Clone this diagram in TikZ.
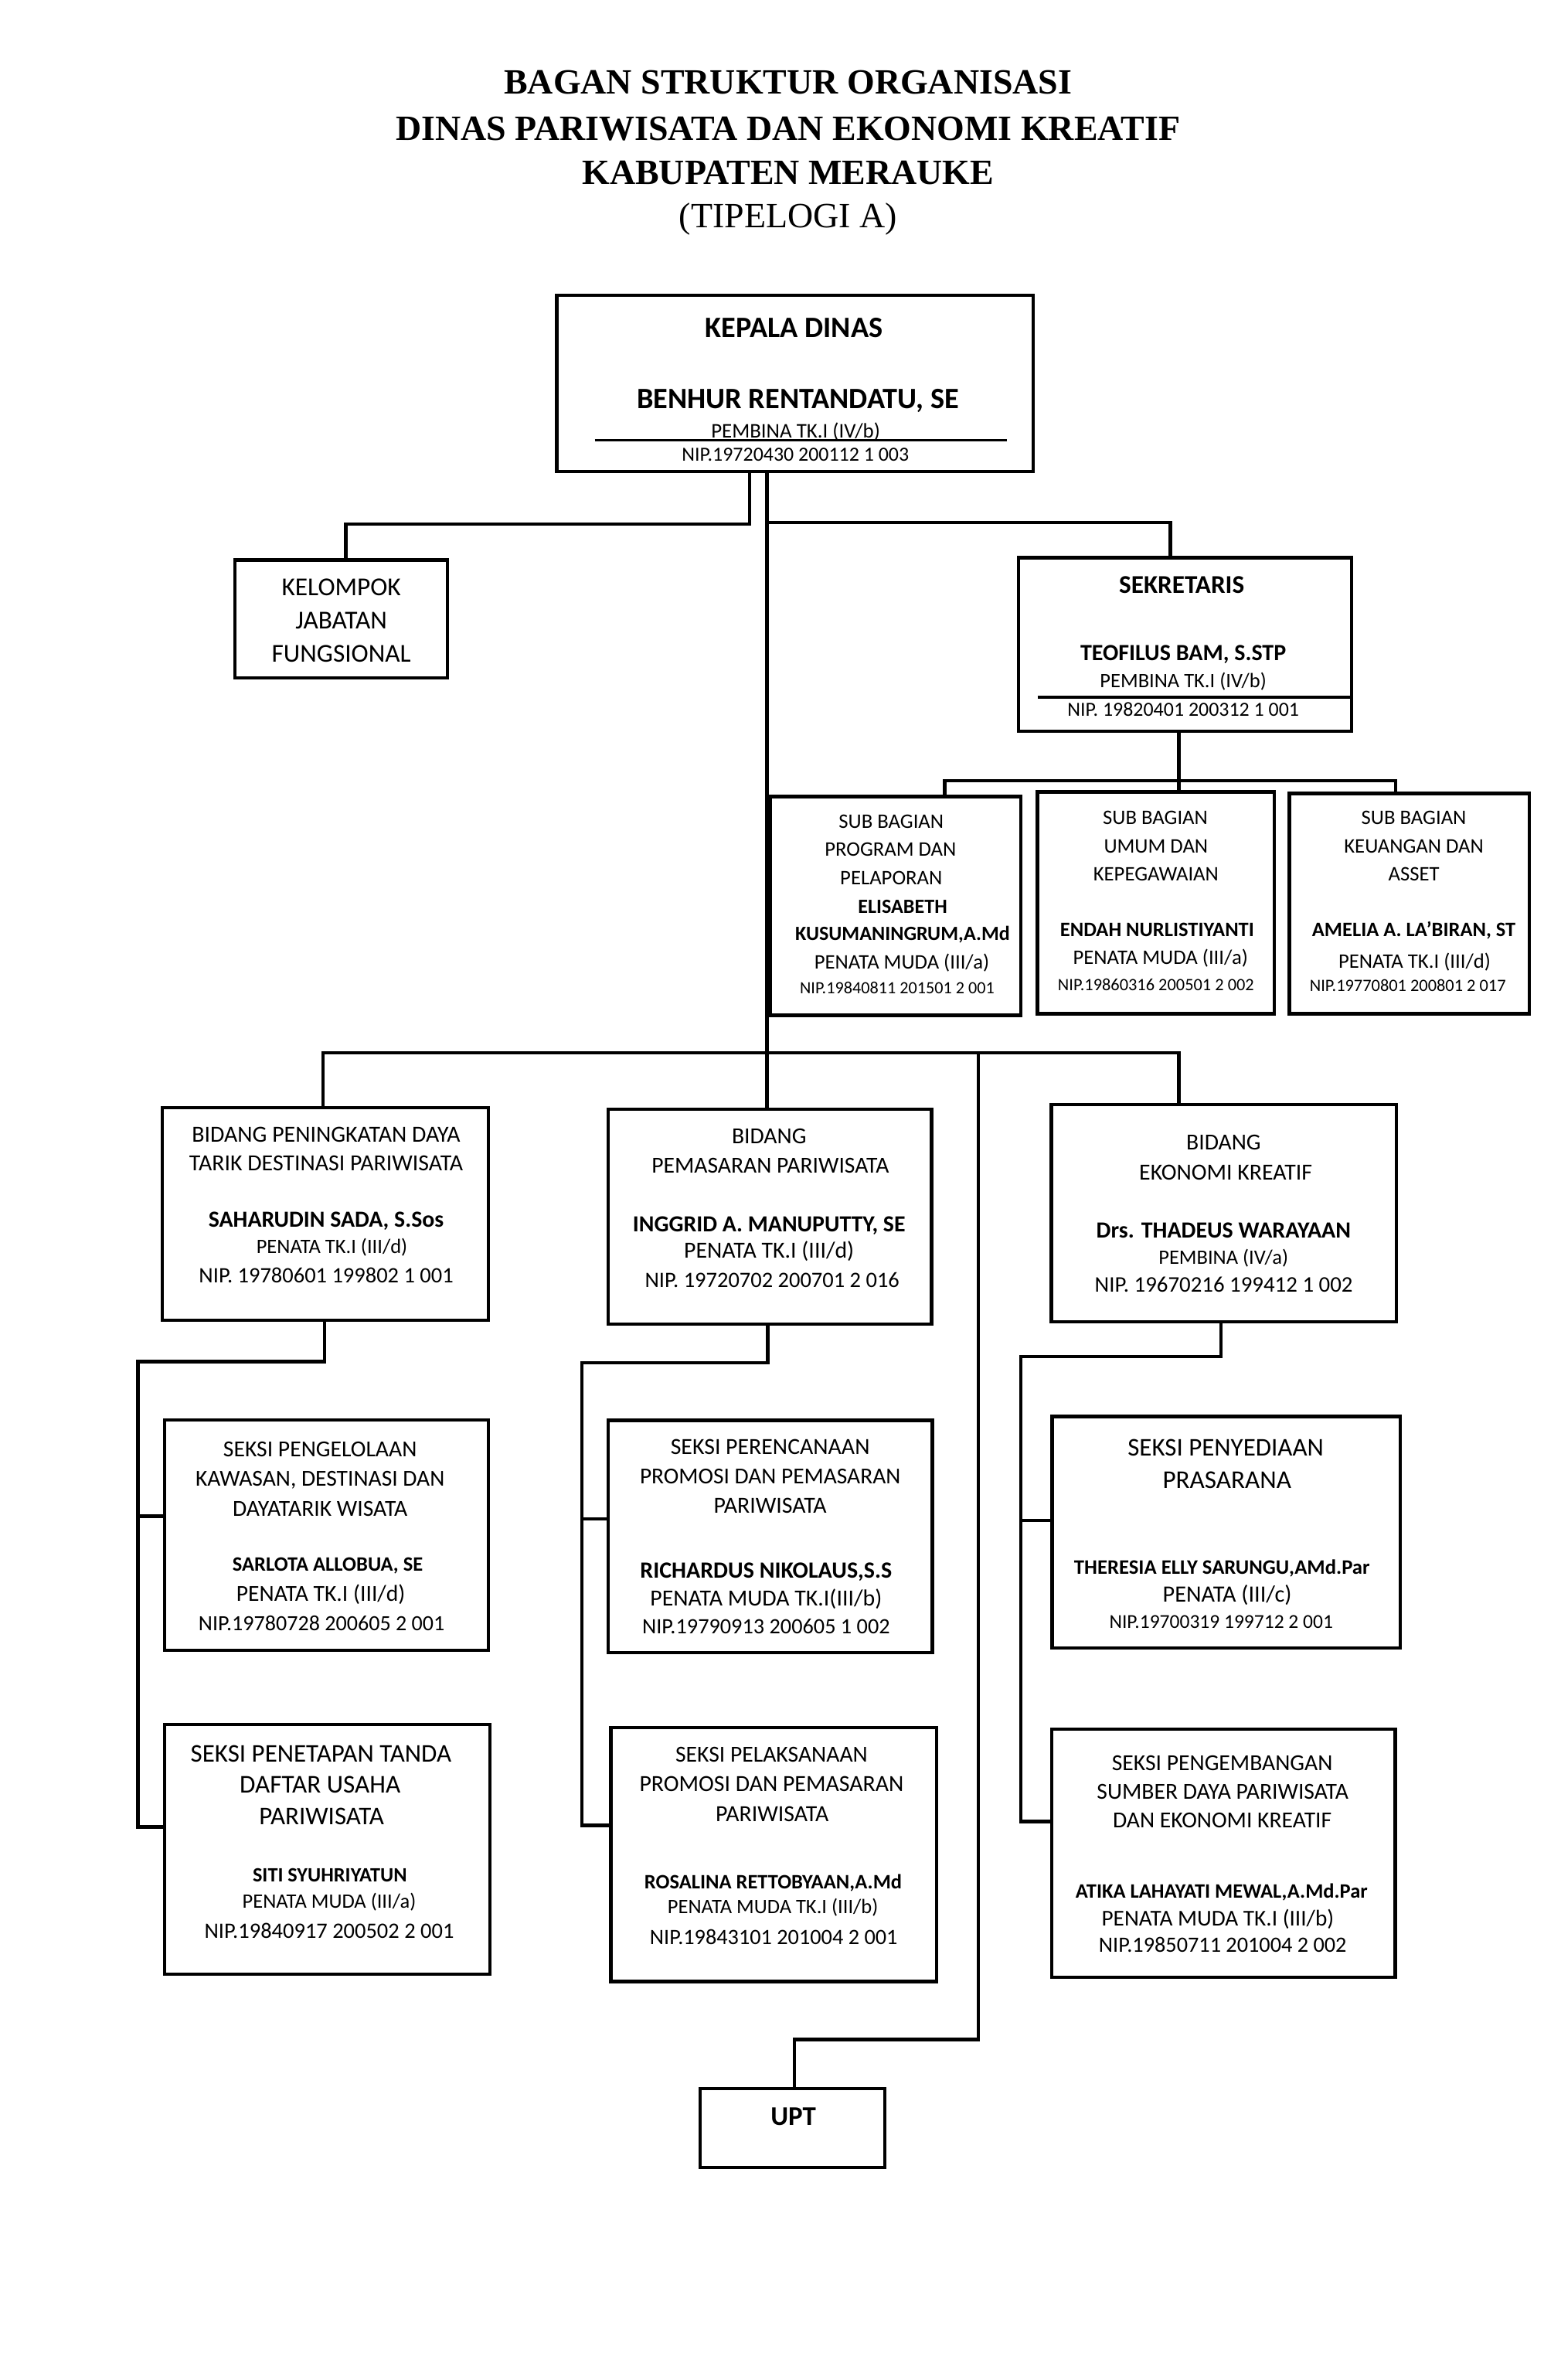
\documentclass[tikz,border=0pt]{standalone}
\usepackage{fontspec}
\setmainfont{Carlito}
\newfontfamily\tnr{Liberation Serif}
\newcounter{tlc}
\tikzset{
  box/.style={draw, line width=1.7pt, inner sep=0pt, outer sep=0pt, anchor=north west},
  ln/.style={line width=1.7pt, line cap=rect},
  rule/.style={line width=1.3pt}
}
% #1 x, #2 y (middle of capitals), #3 size (px), #4 font switches, #5 text
\newcommand\tx[5]{\stepcounter{tlc}%
  \node[anchor=base, inner sep=0pt, font={\fontsize{\fpeval{#3*0.75}pt}{\fpeval{#3*0.9}pt}\selectfont #4}]
    (t\arabic{tlc}) at ({#1},{#2+0.322*#3}) {#5};}
\newcommand\bx[5]{\node[box, minimum width={(#4-#2)*0.75pt}, minimum height={(#5-#3)*0.75pt}] (#1) at (#2,#3) {};}
\begin{document}
\begin{tikzpicture}[x=0.75pt,y=-0.75pt]
\fill[white] (0,0) rectangle (1029,1568.5);
\useasboundingbox (0,0) rectangle (1029,1568.5);

% ---------- title ----------
\tx{519.5}{54.6}{23.4}{\tnr\bfseries}{BAGAN STRUKTUR ORGANISASI}
\tx{519.5}{84.9}{23.4}{\tnr\bfseries}{DINAS PARIWISATA DAN EKONOMI KREATIF}
\tx{519.5}{113.8}{23.4}{\tnr\bfseries}{KABUPATEN MERAUKE}
\tx{519.5}{142.6}{23.4}{\tnr}{(TIPELOGI A)}

% ---------- boxes ----------
\bx{kd}{367}{194.6}{681}{310.7}
\bx{kel}{155}{369}{295}{446.7}
\bx{sek}{671.5}{367.6}{891}{482}
\bx{sba}{508}{525}{673}{669}
\bx{sbb}{684}{522}{840}{668}
\bx{sbc}{850}{523}{1008}{668}
\bx{ba}{107}{730}{322}{870}
\bx{bb}{401}{731}{614}{872.7}
\bx{bc}{693}{728}{920.5}{871}
\bx{saa}{108.6}{935.7}{322}{1087.6}
\bx{sab}{108.6}{1136.5}{323}{1301}
\bx{sba2}{401}{936}{614.5}{1089}
\bx{sbb2}{402.8}{1138.6}{617.4}{1305.8}
\bx{sca}{693.5}{933.6}{923}{1086}
\bx{scb}{693.4}{1139.6}{919.8}{1303}
\bx{upt}{461.5}{1376.3}{583.3}{1428.5}

% rules inside boxes
\draw[rule] (392,290) -- (664,290);
\draw[rule] (684,459.5) -- (891,459.5);

% ---------- connectors ----------
\coordinate (xa) at (494,345.5);
\coordinate (xk) at (228,345.5);
\coordinate (tr) at (505.5,344.5);
\coordinate (xc) at (771.5,344.5);
\draw[ln] (kd.south -| xa) -- (xa) -- (xk) -- (xk |- kel.north);
\draw[ln] (kd.south -| tr) -- (bb.north -| tr);
\draw[ln] (tr) -- (xc) -- (xc |- sek.north);

\coordinate (sj) at (777,514.5);
\coordinate (sl) at (622.7,514.5);
\coordinate (sr) at (920,514.5);
\draw[ln] (sek.south -| sj) -- (sj) -- (sj |- sbb.north);
\draw[ln] (sl |- sba.north) -- (sl) -- (sr) -- (sr |- sbc.north);

\coordinate (bl) at (213,693.7);
\coordinate (br) at (777,693.7);
\coordinate (bu) at (645,693.7);
\coordinate (uj) at (645,1344);
\coordinate (uk) at (523.8,1344);
\draw[ln] (bl |- ba.north) -- (bl) -- (br) -- (br |- bc.north);
\draw[ln] (bu) -- (uj) -- (uk) -- (uk |- upt.north);

\coordinate (cat) at (214,897.4);
\coordinate (cal) at (91,897.4);
\coordinate (cam) at (91,999.3);
\coordinate (cab) at (91,1204);
\draw[ln] (ba.south -| cat) -- (cat) -- (cal) -- (cab) -- (cab -| sab.west);
\draw[ln] (cam) -- (cam -| saa.west);

\coordinate (cbt) at (506,898);
\coordinate (cbl) at (383.5,898);
\coordinate (cbm) at (383.5,1001);
\coordinate (cbb) at (383.5,1203);
\draw[ln] (bb.south -| cbt) -- (cbt) -- (cbl) -- (cbb) -- (cbb -| sbb2.west);
\draw[ln] (cbm) -- (cbm -| sba2.west);

\coordinate (cct) at (805,894);
\coordinate (ccl) at (673,894);
\coordinate (ccm) at (673,1002);
\coordinate (ccb) at (673,1200.5);
\draw[ln] (bc.south -| cct) -- (cct) -- (ccl) -- (ccb) -- (ccb -| scb.west);
\draw[ln] (ccm) -- (ccm -| sca.west);

% ---------- texts ----------
% Kepala Dinas
\tx{523.5}{216}{19.5}{\bfseries}{KEPALA DINAS}
\tx{526}{263}{19.5}{\bfseries}{BENHUR RENTANDATU, SE}
\tx{524.5}{284}{13.7}{}{PEMBINA TK.I (IV/b)}
\tx{524.3}{299.6}{13.2}{}{NIP.19720430 200112 1 003}
% Kelompok
\tx{225}{387}{17}{}{KELOMPOK}
\tx{225}{409}{17}{}{JABATAN}
\tx{225}{431}{17}{}{FUNGSIONAL}
% Sekretaris
\tx{779}{385.5}{16.9}{\bfseries}{SEKRETARIS}
\tx{780}{430.5}{15.3}{\bfseries}{TEOFILUS BAM, S.STP}
\tx{780}{449}{13.5}{}{PEMBINA TK.I (IV/b)}
\tx{780}{467.8}{13.2}{}{NIP. 19820401 200312 1 001}
% Sub bagian 1
\tx{587.5}{541.6}{13.6}{}{SUB BAGIAN}
\tx{587}{559.9}{13.6}{}{PROGRAM DAN}
\tx{587.5}{578.7}{13.6}{}{PELAPORAN}
\tx{595}{597.4}{13.3}{\bfseries}{ELISABETH}
\tx{595}{615.5}{13.3}{\bfseries}{KUSUMANINGRUM,A.Md}
\tx{594.5}{634.3}{13.6}{}{PENATA MUDA (III/a)}
\tx{591.4}{651.2}{11.3}{}{NIP.19840811 201501 2 001}
% Sub bagian 2
\tx{761.6}{539}{13.6}{}{SUB BAGIAN}
\tx{762}{557.8}{13.6}{}{UMUM DAN}
\tx{762}{576}{13.6}{}{KEPEGAWAIAN}
\tx{762.8}{613}{13.5}{\bfseries}{ENDAH NURLISTIYANTI}
\tx{765}{631.3}{13.6}{}{PENATA MUDA (III/a)}
\tx{762}{649}{11.4}{}{NIP.19860316 200501 2 002}
% Sub bagian 3
\tx{932}{539}{13.6}{}{SUB BAGIAN}
\tx{932}{558}{13.6}{}{KEUANGAN DAN}
\tx{932}{576}{13.6}{}{ASSET}
\tx{932}{613}{13.5}{\bfseries}{AMELIA A. LA’BIRAN, ST}
\tx{932.5}{633.6}{13.6}{}{PENATA TK.I (III/d)}
\tx{928}{649.5}{11.4}{}{NIP.19770801 200801 2 017}
% Bidang 1
\tx{215}{748}{15.2}{}{BIDANG PENINGKATAN DAYA}
\tx{215}{766.7}{15.2}{}{TARIK DESTINASI PARIWISATA}
\tx{215}{804}{15.2}{\bfseries}{SAHARUDIN SADA, S.Sos}
\tx{218.8}{821.8}{13.5}{}{PENATA TK.I (III/d)}
\tx{215}{840.6}{14.5}{}{NIP. 19780601 199802 1 001}
% Bidang 2
\tx{507}{749}{15.1}{}{BIDANG}
\tx{507.8}{768}{15.1}{}{PEMASARAN PARIWISATA}
\tx{507}{806.6}{15.2}{\bfseries}{INGGRID A. MANUPUTTY, SE}
\tx{507}{824.4}{15.2}{}{PENATA TK.I (III/d)}
\tx{509}{844}{14.5}{}{NIP. 19720702 200701 2 016}
% Bidang 3
\tx{806.6}{753}{15.1}{}{BIDANG}
\tx{808}{772.6}{15.2}{}{EKONOMI KREATIF}
\tx{806.6}{811}{15.25}{\bfseries}{Drs. THADEUS WARAYAAN}
\tx{806.5}{828.7}{13.5}{}{PEMBINA (IV/a)}
\tx{806.7}{847}{14.7}{}{NIP. 19670216 199412 1 002}
% Seksi 1a
\tx{211}{955}{15.1}{}{SEKSI PENGELOLAAN}
\tx{211}{974.6}{15.05}{}{KAWASAN, DESTINASI DAN}
\tx{211}{994.2}{15.1}{}{DAYATARIK WISATA}
\tx{216}{1030.8}{13.5}{\bfseries}{SARLOTA ALLOBUA, SE}
\tx{211.5}{1050.3}{15.1}{}{PENATA TK.I (III/d)}
\tx{212}{1069.8}{14.3}{}{NIP.19780728 200605 2 001}
% Seksi 1b
\tx{211.6}{1155.6}{16.8}{}{SEKSI PENETAPAN TANDA}
\tx{211}{1176.3}{16.9}{}{DAFTAR USAHA}
\tx{212}{1197}{16.8}{}{PARIWISATA}
\tx{217.4}{1236}{13.4}{\bfseries}{SITI SYUHRIYATUN}
\tx{217}{1253}{13.5}{}{PENATA MUDA (III/a)}
\tx{217}{1272.7}{14.5}{}{NIP.19840917 200502 2 001}
% Seksi 2a
\tx{507.7}{953.5}{15.2}{}{SEKSI PERENCANAAN}
\tx{507.7}{973}{15}{}{PROMOSI DAN PEMASARAN}
\tx{507.7}{992.5}{15.2}{}{PARIWISATA}
\tx{505}{1035}{15.3}{\bfseries}{RICHARDUS NIKOLAUS,S.S}
\tx{505}{1053.6}{15.2}{}{PENATA MUDA TK.I(III/b)}
\tx{505}{1072}{14.4}{}{NIP.19790913 200605 1 002}
% Seksi 2b
\tx{508.6}{1156.4}{15.1}{}{SEKSI PELAKSANAAN}
\tx{508.6}{1175.8}{15.2}{}{PROMOSI DAN PEMASARAN}
\tx{509}{1195.5}{15.2}{}{PARIWISATA}
\tx{509.7}{1240.5}{13.5}{\bfseries}{ROSALINA RETTOBYAAN,A.Md}
\tx{509.5}{1256.6}{13.5}{}{PENATA MUDA TK.I (III/b)}
\tx{510}{1277}{14.4}{}{NIP.19843101 201004 2 001}
% Seksi 3a
\tx{808}{954}{16.8}{}{SEKSI PENYEDIAAN}
\tx{808.8}{975.6}{16.9}{}{PRASARANA}
\tx{805.5}{1033}{13.6}{\bfseries}{THERESIA ELLY SARUNGU,AMd.Par}
\tx{809}{1051}{15.4}{}{PENATA (III/c)}
\tx{805}{1069}{13}{}{NIP.19700319 199712 2 001}
% Seksi 3b
\tx{805.7}{1161.8}{15.1}{}{SEKSI PENGEMBANGAN}
\tx{806}{1181}{15.1}{}{SUMBER DAYA PARIWISATA}
\tx{805.7}{1199.7}{15.1}{}{DAN EKONOMI KREATIF}
\tx{805.3}{1246.4}{13.5}{\bfseries}{ATIKA LAHAYATI MEWAL,A.Md.Par}
\tx{802.8}{1264.3}{14.9}{}{PENATA MUDA TK.I (III/b)}
\tx{806}{1282}{14.4}{}{NIP.19850711 201004 2 002}
% UPT
\tx{523}{1395}{17.8}{\bfseries}{UPT}
\end{tikzpicture}
\end{document}
